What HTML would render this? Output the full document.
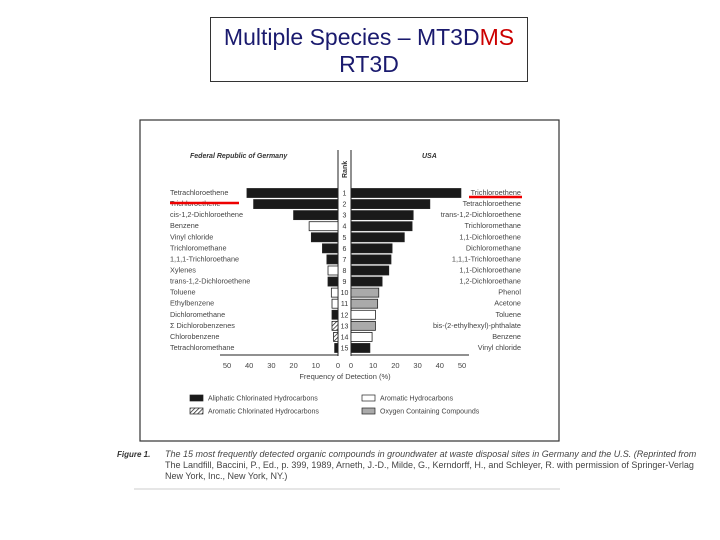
<!DOCTYPE html>
<html><head><meta charset="utf-8"><style>
body{margin:0;width:720px;height:540px;background:#fff;overflow:hidden;font-family:"Liberation Sans",sans-serif}
#title{position:absolute;left:210px;top:17px;width:318px;height:65px;border:1px solid #333;box-sizing:border-box;text-align:center;font-size:23px;line-height:27px;padding-top:6px;color:#1a1a6e;white-space:nowrap}
</style></head><body>
<div id="title">Multiple Species – MT3D<span style="color:#c00">MS</span><br>RT3D</div>
<svg id="chart" width="720" height="540" style="position:absolute;left:0;top:0">
<defs><pattern id="hatch" width="3" height="3" patternUnits="userSpaceOnUse" patternTransform="rotate(45)"><rect width="3" height="3" fill="#fff"/><line x1="0" y1="0" x2="0" y2="3" stroke="#222" stroke-width="1.5"/></pattern></defs>
</svg>
<script>
const deNames=["Tetrachloroethene","Trichloroethene","cis-1,2-Dichloroethene","Benzene","Vinyl chloride","Trichloromethane","1,1,1-Trichloroethane","Xylenes","trans-1,2-Dichloroethene","Toluene","Ethylbenzene","Dichloromethane","Σ Dichlorobenzenes","Chlorobenzene","Tetrachloromethane"];
const deValues=[41,38,20,13,12,7,5,4.5,4.5,3,2.7,2.7,2.7,2,1.5];
const deTypes=["A","A","A","R","A","A","A","R","A","R","R","A","H","H","A"];
const usNames=["Trichloroethene","Tetrachloroethene","trans-1,2-Dichloroethene","Trichloromethane","1,1-Dichloroethene","Dichloromethane","1,1,1-Trichloroethane","1,1-Dichloroethane","1,2-Dichloroethane","Phenol","Acetone","Toluene","bis-(2-ethylhexyl)-phthalate","Benzene","Vinyl chloride"];
const usValues=[49.5,35.5,28,27.5,24,18.5,18,17,14,12.5,12,11,11,9.5,8.5];
const usTypes=["A","A","A","A","A","A","A","A","A","O","O","R","O","R","A"];
const leftTicks=[50,40,30,20,10,0];
const rightTicks=[0,10,20,30,40,50];
const svg=document.getElementById('chart');
const NS="http://www.w3.org/2000/svg";
function mk(t,a,txt){const e=document.createElementNS(NS,t);for(const k in a)e.setAttribute(k,a[k]);if(txt!==undefined)e.textContent=txt;svg.appendChild(e);return e;}
const S=2.22,L0=338,R0=351;
const xl=v=>L0-v*S, xr=v=>R0+v*S, yr=i=>193+i*11.07;
const fill={A:"#1a1a1a",R:"#fff",H:"url(#hatch)",O:"#aaa"};
let e;
e=mk('rect',{x:140,y:120,width:419,height:321,fill:"none",stroke:"#333","stroke-width":1.2});

e=mk('text',{x:190,y:158,"font-size":7,"font-weight":"bold","font-style":"italic",fill:"#333"},"Federal Republic of Germany");

e=mk('text',{x:422,y:158,"font-size":7,"font-weight":"bold","font-style":"italic",fill:"#333"},"USA");

e=mk('line',{x1:L0,y1:150,x2:L0,y2:356,stroke:"#222","stroke-width":1});

e=mk('line',{x1:R0,y1:150,x2:R0,y2:356,stroke:"#222","stroke-width":1});

e=mk('text',{x:0,y:0,"font-size":7,"font-weight":"bold",fill:"#333",transform:"translate(347,178) rotate(-90)"},"Rank");

deValues.forEach((v,i)=>{
  e=mk('rect',{x:xl(v),y:yr(i)-4.5,width:v*S,height:9,fill:fill[deTypes[i]],stroke:"#222","stroke-width":0.8});
  
  e=mk('text',{x:170,y:yr(i)+2,"font-size":7.3,fill:"#444"},deNames[i]);
  
  e=mk('text',{x:344.5,y:yr(i)+2.5,"font-size":7,fill:"#333","text-anchor":"middle"},String(i+1));
  
});
usValues.forEach((v,i)=>{
  e=mk('rect',{x:R0,y:yr(i)-4.5,width:v*S,height:9,fill:fill[usTypes[i]],stroke:"#222","stroke-width":0.8});
  
  e=mk('text',{x:521,y:yr(i)+2,"font-size":7.3,fill:"#444","text-anchor":"end"},usNames[i]);
  
});
e=mk('line',{x1:220,y1:355,x2:L0,y2:355,stroke:"#222"});

e=mk('line',{x1:R0,y1:355,x2:469,y2:355,stroke:"#222"});

leftTicks.forEach(t=>{
  e=mk('text',{x:xl(t),y:368,"font-size":7.5,fill:"#444","text-anchor":"middle"},String(t));
  
});
rightTicks.forEach(t=>{
  e=mk('text',{x:xr(t),y:368,"font-size":7.5,fill:"#444","text-anchor":"middle"},String(t));
  
});
e=mk('text',{x:345,y:379,"font-size":7.5,fill:"#444","text-anchor":"middle"},"Frequency of Detection (%)");

const legend=[["A",190,398,"Aliphatic Chlorinated Hydrocarbons"],["H",190,411,"Aromatic Chlorinated Hydrocarbons"],["R",362,398,"Aromatic Hydrocarbons"],["O",362,411,"Oxygen Containing Compounds"]];
legend.forEach(l=>{
  e=mk('rect',{x:l[1],y:l[2]-3,width:13,height:6,fill:fill[l[0]],stroke:"#222","stroke-width":0.7});
  
  e=mk('text',{x:l[1]+18,y:l[2]+2.5,"font-size":7,fill:"#444"},l[3]);
  
});
e=mk('line',{x1:170,y1:203,x2:239,y2:203,stroke:"#e00","stroke-width":2.5});

e=mk('line',{x1:469,y1:197,x2:522,y2:197,stroke:"#e00","stroke-width":2.5});

e=mk('text',{x:117,y:457,"font-size":8,"font-weight":"bold","font-style":"italic",fill:"#333"},"Figure 1.");

const cap=["The 15 most frequently detected organic compounds in groundwater at waste disposal sites in Germany and the U.S. (Reprinted from","The Landfill, Baccini, P., Ed., p. 399, 1989, Arneth, J.-D., Milde, G., Kerndorff, H., and Schleyer, R. with permission of Springer-Verlag","New York, Inc., New York, NY.)"];
cap.forEach((c,i)=>{
  e=mk('text',{x:165,y:457+i*11,"font-size":9,"font-style":i==0?"italic":"normal",fill:"#444"},c);
  
});
e=mk('line',{x1:134,y1:489,x2:560,y2:489,stroke:"#ccc","stroke-width":1});

</script>
</body></html>
